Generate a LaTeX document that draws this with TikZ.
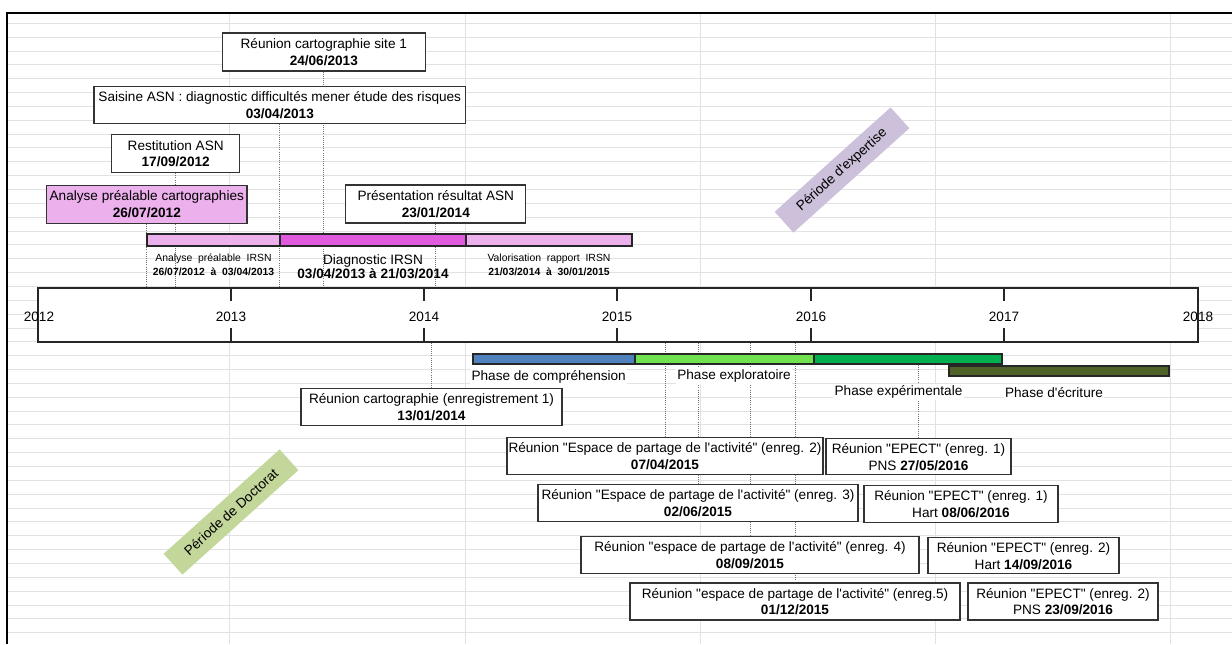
\documentclass[tikz,border=0pt]{standalone}
\usepackage{fontspec}
\newfontfamily\arial{Liberation Sans}
\usetikzlibrary{positioning}
\pgfdeclarelayer{grid}
\pgfdeclarelayer{links}
\pgfsetlayers{grid,links,main}

\definecolor{gridgray}{RGB}{226,226,226}
\definecolor{pinklight}{RGB}{236,176,236}
\definecolor{pinkdark}{RGB}{224,90,224}
\definecolor{phaseblue}{RGB}{79,129,189}
\definecolor{phaselime}{RGB}{112,226,80}
\definecolor{phasegreen}{RGB}{0,176,80}
\definecolor{phaseolive}{RGB}{79,98,40}
\definecolor{lavender}{RGB}{204,192,218}
\definecolor{sage}{RGB}{196,215,155}

\newcommand{\pxu}{0.75pt}
\newcommand{\boxfont}{\arial\fontsize{10.2}{12.5}\selectfont}
\newcommand{\smallfont}{\arial\fontsize{7.8}{10.5}\selectfont}

\begin{document}
\begin{tikzpicture}[x=0.75pt,y=-0.75pt,
    event box/.style={draw=black!80,fill=white,line width=0.8pt,align=center,inner sep=0pt,font=\boxfont},
    phase bar/.style={draw=black!85,line width=0.8pt,inner sep=0pt,minimum height=10*\pxu},
    phase label/.style={fill=white,inner sep=1pt,font=\boxfont},
    small label/.style={align=center,inner sep=0pt,font=\smallfont},
    period/.style={rotate=42,inner sep=0pt,minimum width=156*\pxu,minimum height=28*\pxu,font=\boxfont},
    link/.style={draw=black!55,line width=0.6pt,densely dotted},
    grid line/.style={draw=gridgray,line width=0.75pt},
    year tick/.style={draw=black!85,line width=0.9pt}
  ]
  \useasboundingbox (0,0) rectangle (1232,644);

  % spreadsheet grid
  \begin{pgfonlayer}{grid}
    \fill[white] (0,0) rectangle (1232,644);
    \foreach \k in {0,...,44}
      \draw[grid line] (8,{23.3+13.85*\k}) -- (1232,{23.3+13.85*\k});
    \foreach \x in {229,465,700,935,1170}
      \draw[grid line] (\x,13) -- (\x,644);
  \end{pgfonlayer}
  \draw[line width=1.6pt] (7.3,644) -- (7.3,12.7) -- (1232,12.7);

  % time axis
  \node[draw=black!85,fill=white,line width=0.9pt,inner sep=0pt,
        minimum width=1160*\pxu,minimum height=54*\pxu] (axis) at (618,315) {};
  \foreach \x in {231,424,617,811,1004} {
    \draw[year tick] (\x,288) -- (\x,301);
    \draw[year tick] (\x,328) -- (\x,342);
  }
  \foreach \x/\yr in {39/2012,231/2013,424/2014,617/2015,811/2016,1004/2017,1198/2018}
    \node[font=\boxfont,inner sep=0pt] (y\yr) at (\x,316.5) {\yr};

  % IRSN expertise bars
  \node[phase bar,fill=pinklight,minimum width=133*\pxu,minimum height=12*\pxu] (irsnA) at (213.5,240) {};
  \node[phase bar,fill=pinkdark,minimum width=186*\pxu,minimum height=12*\pxu] (irsnD) at (373,240) {};
  \node[phase bar,fill=pinklight,minimum width=166*\pxu,minimum height=12*\pxu] (irsnV) at (549,240) {};
  \node[small label] (labA) at (213.5,264.7) {Analyse~~préalable~~IRSN\\\textbf{26/07/2012~~à~~03/04/2013}};
  \node[align=center,inner sep=0pt,font=\arial\fontsize{10.2}{10.7}\selectfont] (labD) at (373,267)
    {Diagnostic IRSN\\\textbf{03/04/2013 à 21/03/2014}};
  \node[small label] (labV) at (549,264.7) {Valorisation~~rapport~~IRSN\\\textbf{21/03/2014~~à~~30/01/2015}};

  % events above the axis
  \node[event box,minimum width=202.5*\pxu,minimum height=38*\pxu] (site1) at (323.8,52)
    {Réunion cartographie site 1\\\textbf{24/06/2013}};
  \node[event box,minimum width=371.6*\pxu,minimum height=36.6*\pxu] (saisine) at (279.8,105)
    {Saisine ASN : diagnostic difficultés mener étude des risques\\\textbf{03/04/2013}};
  \node[event box,minimum width=128.5*\pxu,minimum height=37.7*\pxu] (restit) at (175.7,153.8)
    {Restitution ASN\\\textbf{17/09/2012}};
  \node[event box,fill=pinklight,minimum width=200.4*\pxu,minimum height=38*\pxu] (prealable) at (146.8,204.3)
    {Analyse préalable cartographies\\\textbf{26/07/2012}};
  \node[event box,minimum width=179.7*\pxu,minimum height=38*\pxu] (presres) at (435.8,204)
    {Présentation résultat ASN\\\textbf{23/01/2014}};

  % periods
  \node[period,fill=lavender] (expertise) at (842,170) {Période d'expertise};
  \node[period,fill=sage] (doctorat) at (231,512) {Période de Doctorat};

  % thesis phases
  \node[phase bar,fill=phaseblue,minimum width=162*\pxu] (compbar) at (554,359) {};
  \node[phase bar,fill=phaselime,minimum width=179*\pxu] (explbar) at (724.5,359) {};
  \node[phase bar,fill=phasegreen,minimum width=188*\pxu] (expebar) at (908,359) {};
  \node[phase bar,fill=phaseolive,minimum width=220*\pxu] (ecribar) at (1059,371) {};
  \node[phase label,anchor=west] (complab) at (470,377) {Phase de compréhension};
  \node[phase label] (expllab) at (734,376) {Phase exploratoire};
  \node[phase label] (expelab) at (898.5,392) {Phase expérimentale};
  \node[phase label] (ecrilab) at (1054,393) {Phase d'écriture};

  % events below the axis
  \node[event box,minimum width=261*\pxu,minimum height=36.7*\pxu] (cartoenr) at (431.5,407.3)
    {Réunion cartographie (enregistrement 1)\\\textbf{13/01/2014}};
  \node[event box,minimum width=316*\pxu,minimum height=37.3*\pxu] (esp2) at (665,456.3)
    {Réunion "Espace de partage de l'activité" (enreg. 2)\\\textbf{07/04/2015}};
  \node[event box,minimum width=320*\pxu,minimum height=36.7*\pxu] (esp3) at (698,503.3)
    {Réunion "Espace de partage de l'activité" (enreg. 3)\\\textbf{02/06/2015}};
  \node[event box,minimum width=338*\pxu,minimum height=37.3*\pxu] (esp4) at (750,555.3)
    {Réunion "espace de partage de l'activité" (enreg. 4)\\\textbf{08/09/2015}};
  \node[event box,minimum width=330*\pxu,minimum height=37*\pxu] (esp5) at (795,601.5)
    {Réunion "espace de partage de l'activité" (enreg.5)\\\textbf{01/12/2015}};
  \node[event box,minimum width=185*\pxu,minimum height=36.3*\pxu] (epect1) at (918.5,456.8)
    {Réunion "EPECT" (enreg. 1)\\PNS \textbf{27/05/2016}};
  \node[event box,minimum width=194*\pxu,minimum height=36.7*\pxu] (epect2) at (961,504.3)
    {Réunion "EPECT" (enreg. 1)\\Hart \textbf{08/06/2016}};
  \node[event box,minimum width=191*\pxu,minimum height=36.3*\pxu] (epect3) at (1023.5,555.8)
    {Réunion "EPECT" (enreg. 2)\\Hart \textbf{14/09/2016}};
  \node[event box,minimum width=190*\pxu,minimum height=37*\pxu] (epect4) at (1063,601.5)
    {Réunion "EPECT" (enreg. 2)\\PNS \textbf{23/09/2016}};

  % date lines
  \begin{pgfonlayer}{links}
    \foreach \nd in {prealable,restit,saisine,site1,presres}
      \draw[link] (\nd.south) -- (\nd.south |- axis.north);
    \foreach \nd in {cartoenr,esp2,esp3,esp4,esp5}
      \draw[link] (axis.south -| \nd.north) -- (\nd.north);
    \draw[link] (expebar.south -| epect1.north) -- (epect1.north);
  \end{pgfonlayer}
\end{tikzpicture}
\end{document}
